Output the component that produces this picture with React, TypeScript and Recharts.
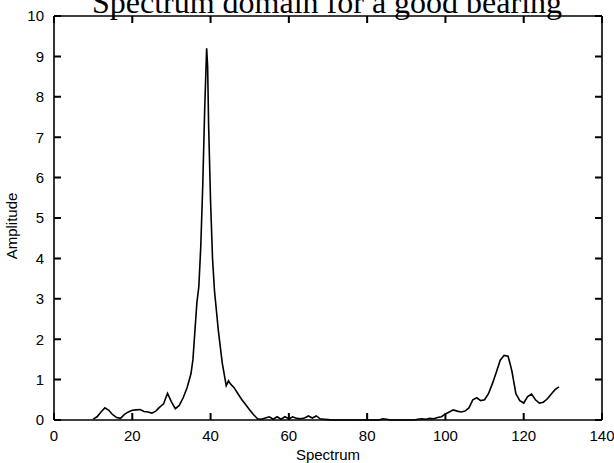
import React from "react";
import { LineChart, Line, XAxis, YAxis, Label, ReferenceLine } from "recharts";

// spectrum bins (x) and amplitudes
const SPECTRUM = [
  10, 11, 12, 13, 14, 15, 16, 17, 18, 19, 20, 21, 22, 23, 24, 25, 26, 27, 28, 29,
  30, 31, 32, 33, 34, 35, 35.5, 36, 36.5, 37, 37.5, 38, 38.5, 39, 39.25, 39.5, 40,
  40.5, 41, 42, 43, 44, 44.6, 45, 46, 47, 48, 49, 50, 51, 52, 53, 54, 55, 56, 57,
  58, 59, 60, 61, 62, 63, 64, 65, 66, 67, 68, 69, 70, 71, 72, 73, 74, 75, 76, 77,
  78, 79, 80, 81, 82, 83, 84, 85, 86, 87, 88, 89, 90, 91, 92, 93, 94, 95, 96, 97,
  98, 99, 100, 101, 102, 103, 104, 105, 106, 107, 108, 109, 110, 111, 112, 113,
  114, 115, 116, 116.5, 117, 118, 119, 120, 121, 122, 123, 124, 125, 126, 127,
  128, 129,
];

const AMPLITUDE = [
  0.02, 0.08, 0.2, 0.3, 0.24, 0.13, 0.06, 0.04, 0.14, 0.2, 0.24, 0.25, 0.26, 0.21,
  0.2, 0.17, 0.22, 0.32, 0.4, 0.66, 0.45, 0.28, 0.36, 0.55, 0.8, 1.15, 1.5, 2.2,
  2.9, 3.3, 4.3, 5.8, 7.7, 9.2, 8.75, 7.3, 5.4, 4.0, 3.2, 2.2, 1.4, 0.85, 0.97,
  0.9, 0.8, 0.65, 0.5, 0.38, 0.25, 0.13, 0.03, 0.02, 0.05, 0.08, 0.02, 0.08, 0.02,
  0.08, 0.03, 0.08, 0.04, 0.03, 0.05, 0.1, 0.05, 0.1, 0.03, 0.02, 0.01, 0, 0, 0,
  0, 0, 0, 0, 0, 0, 0, 0, 0, 0, 0.03, 0.02, 0, 0, 0, 0, 0, 0, 0, 0.02, 0.03, 0.02,
  0.04, 0.03, 0.06, 0.08, 0.15, 0.2, 0.25, 0.22, 0.2, 0.22, 0.3, 0.5, 0.55, 0.48,
  0.5, 0.65, 0.9, 1.18, 1.48, 1.6, 1.58, 1.4, 1.2, 0.65, 0.48, 0.42, 0.58, 0.64,
  0.5, 0.42, 0.44, 0.52, 0.64, 0.75, 0.82,
];

const X_TICKS = [0, 20, 40, 60, 80, 100, 120, 140];
const Y_TICKS = [0, 1, 2, 3, 4, 5, 6, 7, 8, 9, 10];
const X_MAX = 140;
const Y_MAX = 10;

const data = SPECTRUM.map((x, i) => ({ x, y: AMPLITUDE[i] }));

// plot box edges in px
const LEFT = 54;
const RIGHT = 602;
const TOP = 16;
const BOTTOM = 420;
const TICK = 7;

const sans = "'Liberation Sans', Arial, Helvetica, sans-serif";
const axisStroke = { stroke: "#000", strokeWidth: 1.6 };

// tick label plus inward marks on the bottom and top edge
// eslint-disable-next-line @typescript-eslint/no-explicit-any
function XTick({ x, y, payload }: any) {
  return (
    <g>
      <path d={`M${x},${BOTTOM}V${BOTTOM - TICK}M${x},${TOP}V${TOP + TICK}`} stroke="#000" strokeWidth={2} fill="none" />
      <text x={x} y={y} dy="0.71em" textAnchor="middle" fontSize={15} fontFamily={sans} fill="#000">
        {payload.value}
      </text>
    </g>
  );
}

// tick label plus inward marks on the left and right edge
// eslint-disable-next-line @typescript-eslint/no-explicit-any
function YTick({ x, y, payload }: any) {
  return (
    <g>
      <path d={`M${LEFT},${y}H${LEFT + TICK}M${RIGHT},${y}H${RIGHT - TICK}`} stroke="#000" strokeWidth={2} fill="none" />
      <text x={x} y={y} dy="0.355em" textAnchor="end" fontSize={15} fontFamily={sans} fill="#000">
        {payload.value}
      </text>
    </g>
  );
}

export default function App() {
  return (
    <div style={{ position: "absolute", left: 0, top: 0, background: "#fff" }}>
      <LineChart
        width={614}
        height={463}
        data={data}
        margin={{ top: TOP, right: 614 - RIGHT, left: 0, bottom: 0 }}
      >
        <XAxis
          dataKey="x"
          type="number"
          domain={[0, X_MAX]}
          ticks={X_TICKS}
          tick={<XTick />}
          tickLine={false}
          tickSize={0}
          tickMargin={10}
          axisLine={axisStroke}
          height={463 - BOTTOM}
          interval={0}
        >
          <Label value="Spectrum" position="insideBottom" offset={3} fill="#000" fontSize={15} fontFamily={sans} />
        </XAxis>
        <YAxis
          type="number"
          domain={[0, Y_MAX]}
          ticks={Y_TICKS}
          tick={<YTick />}
          tickLine={false}
          tickSize={0}
          tickMargin={10}
          axisLine={axisStroke}
          width={LEFT}
          interval={0}
        >
          <Label
            content={() => (
              <g>
                <text
                  x={11}
                  y={226}
                  transform="rotate(-90 11 226)"
                  textAnchor="middle"
                  dominantBaseline="central"
                  fontSize={15}
                  fontFamily={sans}
                  fill="#000"
                >
                  Amplitude
                </text>
                <text
                  x={327}
                  y={13}
                  textAnchor="middle"
                  fontSize={32}
                  fontFamily="'Liberation Serif', 'Times New Roman', serif"
                  fill="#000"
                >
                  Spectrum domain for a good bearing
                </text>
              </g>
            )}
          />
        </YAxis>

        {/* frame: top and right edges */}
        <ReferenceLine y={Y_MAX} stroke="#000" strokeWidth={1.6} ifOverflow="visible" />
        <ReferenceLine x={X_MAX} stroke="#000" strokeWidth={1.6} ifOverflow="visible" />

        <Line
          type="linear"
          dataKey="y"
          stroke="#000"
          strokeWidth={1.6}
          dot={false}
          isAnimationActive={false}
        />
      </LineChart>
    </div>
  );
}
